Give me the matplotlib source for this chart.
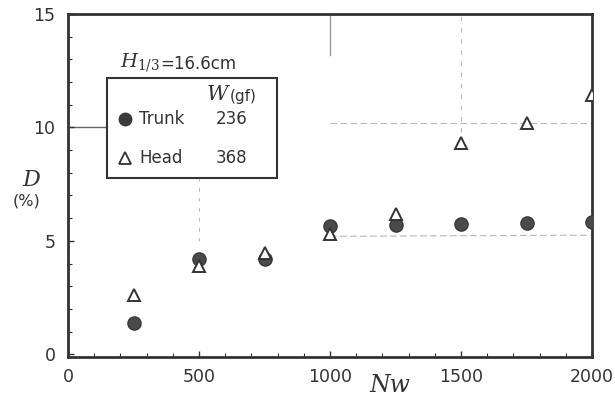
import matplotlib.pyplot as plt
from matplotlib.patches import Rectangle
from matplotlib.ticker import MultipleLocator

# values
nw = [250, 500, 750, 1000, 1250, 1500, 1750, 2000]
d_trunk = [1.4, 4.2, 4.2, 5.65, 5.7, 5.75, 5.8, 5.85]
d_head = [2.6, 3.9, 4.45, 5.3, 6.2, 9.3, 10.2, 11.45]

xticks = [0, 500, 1000, 1500, 2000]
yticks = [0, 5, 10, 15]

W, H = 615, 404
ink = '#333333'

def fx(x):
    return x / W

def fy(y):
    return 1 - y / H

fig = plt.figure(figsize=(W / 100, H / 100), dpi=100)
ax = fig.add_axes([fx(68), fy(357), fx(592) - fx(68), fy(14) - fy(357)])

# faint show-through lines from the scan
grey = dict(color='#b8b8b8', lw=0.8, zorder=0)
ax.plot([1000, 1000], [13.2, 15], color='#999999', lw=1.0, zorder=0)
ax.plot([1500, 1500], [9.8, 15], ls=(0, (4, 6)), **grey)
ax.plot([1000, 2000], [10.2, 10.2], ls=(0, (6, 3)), **grey)
ax.plot([1000, 2000], [5.2, 5.25], ls=(0, (6, 3)), **grey)
ax.plot([500, 500], [5.0, 8.0], ls=(0, (3, 6)), **grey)
ax.plot([0, 150], [10, 10], color='#666666', lw=1.0, zorder=0)

ax.plot(nw, d_trunk, 'o', ms=9.5, color='#4a4a4a', mec='#3a3a3a', zorder=3)
ax.plot(nw, d_head, '^', ms=8.5, mfc='white', mec=ink, mew=1.4, zorder=4)

ax.set_xlim(0, 2000)
ax.set_ylim(-0.12, 15)
ax.set_xticks(xticks)
ax.set_yticks(yticks)
ax.xaxis.set_minor_locator(MultipleLocator(100))
ax.yaxis.set_minor_locator(MultipleLocator(1))
ax.tick_params(which='both', direction='in', color=ink)
ax.tick_params(which='major', length=4, width=1)
ax.tick_params(which='minor', length=3, width=0.8)
ax.tick_params(axis='x', pad=8)
ax.tick_params(axis='y', pad=9)
tick_font = dict(family='DejaVu Sans', size=12.5, color=ink)
ax.set_xticklabels([str(t) for t in xticks], **tick_font)
ax.set_yticklabels([str(t) for t in yticks], **tick_font)
for s in ax.spines.values():
    s.set_linewidth(2)
    s.set_color(ink)

serif = dict(family='DejaVu Serif', style='italic', color=ink, zorder=6)
fig.text(fx(390), fy(386), 'Nw', ha='center', va='center', size=17, **serif)
fig.text(fx(31), fy(180), 'D', ha='center', va='center', size=16, **serif)
fig.text(fx(26), fy(201), '(%)', ha='center', va='center', size=11.5,
         family='DejaVu Sans', color=ink)

# legend box drawn by hand
fig.patches.append(Rectangle((fx(107), fy(178)), fx(277) - fx(107), fy(78) - fy(178),
                             transform=fig.transFigure, fill=True, fc='white',
                             ec=ink, lw=1.5, zorder=5))
fig.text(fx(120), fy(63), r'$H_{1/3}$', ha='left', va='center', size=14,
         family='DejaVu Serif', color=ink, math_fontfamily='dejavuserif')
fig.text(fx(160), fy(64), '=16.6cm', ha='left', va='center', size=12,
         family='DejaVu Sans', color=ink)
fig.text(fx(207), fy(95), 'W', ha='left', va='center', size=15, **serif)
fig.text(fx(230), fy(97), '(gf)', ha='left', va='center', size=11,
         family='DejaVu Sans', color=ink, zorder=6)
fig.lines.append(plt.Line2D([fx(125)], [fy(119)], marker='o', ms=9, color='#3a3a3a',
                            transform=fig.transFigure, zorder=6))
fig.lines.append(plt.Line2D([fx(125)], [fy(158)], marker='^', ms=8, mfc='white',
                            mec=ink, mew=1.3, transform=fig.transFigure, zorder=6))
lab = dict(ha='left', va='center', size=12, family='DejaVu Sans', color=ink, zorder=6)
fig.text(fx(139), fy(119), 'Trunk', **lab)
fig.text(fx(216), fy(119), '236', **lab)
fig.text(fx(139), fy(158), 'Head', **lab)
fig.text(fx(216), fy(158), '368', **lab)

fig.savefig('out.png', dpi=100)
